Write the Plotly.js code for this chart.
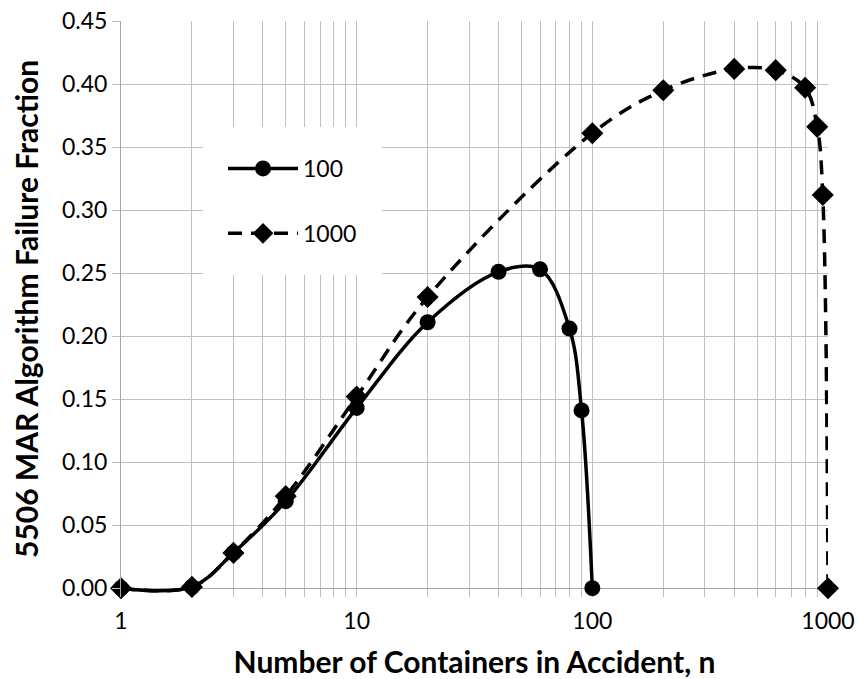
<!DOCTYPE html>
<html>
<head>
<meta charset="utf-8">
<script src="https://cdn.plot.ly/plotly-3.0.1.min.js"></script>
<style>html,body{margin:0;padding:0;background:#fff;}#chart{width:858px;height:679px;}</style>
</head>
<body>
<div id="chart"></div>
<script>
// Data
const n100 = [1, 2, 3, 5, 10, 20, 40, 60, 80, 90, 100];
const f100 = [0.000, 0.001, 0.028, 0.069, 0.143, 0.211, 0.251, 0.253, 0.206, 0.141, 0.000];

const n1000 = [1, 2, 3, 5, 10, 20, 100, 200, 400, 600, 800, 900, 950, 1000];
const f1000 = [0.000, 0.001, 0.028, 0.073, 0.152, 0.231, 0.361, 0.395, 0.412, 0.411, 0.397, 0.366, 0.312, 0.000];

const seriesNames = ['100', '1000'];
const xTickVals = [1, 10, 100, 1000];
const xTickText = ['1', '10', '100', '1000'];

const FONT = 'Lato, "Open Sans", sans-serif';
const GRID = '#bfbfbf';
const AXIS = '#a6a6a6';

const traces = [
  {
    x: n100, y: f100, name: seriesNames[0], type: 'scatter', mode: 'lines+markers',
    line: {color: '#000', width: 3.5, shape: 'spline', smoothing: 1},
    marker: {symbol: 'circle', size: 16, color: '#000'},
    cliponaxis: false, legendgroup: 'a'
  },
  {
    x: n1000, y: f1000, name: seriesNames[1], type: 'scatter', mode: 'lines+markers',
    line: {color: '#000', width: 3.5, shape: 'spline', smoothing: 1, dash: '14px,9px'},
    marker: {symbol: 'diamond', size: 17, color: '#000'},
    cliponaxis: false, legendgroup: 'b'
  }
];

const layout = {
  width: 858, height: 679,
  margin: {l: 121, r: 30, t: 21, b: 82},
  paper_bgcolor: '#fff', plot_bgcolor: '#fff',
  font: {family: FONT, color: '#000', size: 23},
  showlegend: true,
  legend: {
    x: (203 - 121) / 707, y: (597 - 127) / 576, xanchor: 'left', yanchor: 'top',
    bgcolor: '#fff', bordercolor: '#fff', borderwidth: 20,
    font: {family: FONT, size: 23, color: '#000'},
    traceorder: 'grouped', tracegroupgap: 32, itemwidth: 70
  },
  xaxis: {
    type: 'log', range: [0, 3],
    tickmode: 'array', tickvals: xTickVals, ticktext: xTickText,
    ticks: '', ticklabelstandoff: 8,
    showgrid: true, gridcolor: GRID, gridwidth: 1,
    minor: {dtick: 'D1', showgrid: true, gridcolor: GRID, gridwidth: 1, ticks: ''},
    showline: false, zeroline: false,
    tickfont: {family: FONT, size: 23, color: '#000'},
    title: {text: '<b>Number of Containers in Accident, n</b>', font: {family: FONT, size: 30, color: '#000'}, standoff: 19}
  },
  yaxis: {
    range: [-0.007, 0.45], dtick: 0.05, tick0: 0, tickformat: '.2f',
    ticks: 'outside', ticklen: 8, tickcolor: GRID,
    showgrid: true, gridcolor: GRID, gridwidth: 1,
    showline: true, linecolor: AXIS, linewidth: 1,
    zeroline: true, zerolinecolor: AXIS, zerolinewidth: 1,
    tickfont: {family: FONT, size: 23, color: '#000'},
    title: {text: '<b>5506 MAR Algorithm Failure Fraction</b>', font: {family: FONT, size: 30, color: '#000'}, standoff: 14}
  }
};

Plotly.newPlot('chart', traces, layout, {displayModeBar: false, staticPlot: true});
</script>
</body>
</html>
